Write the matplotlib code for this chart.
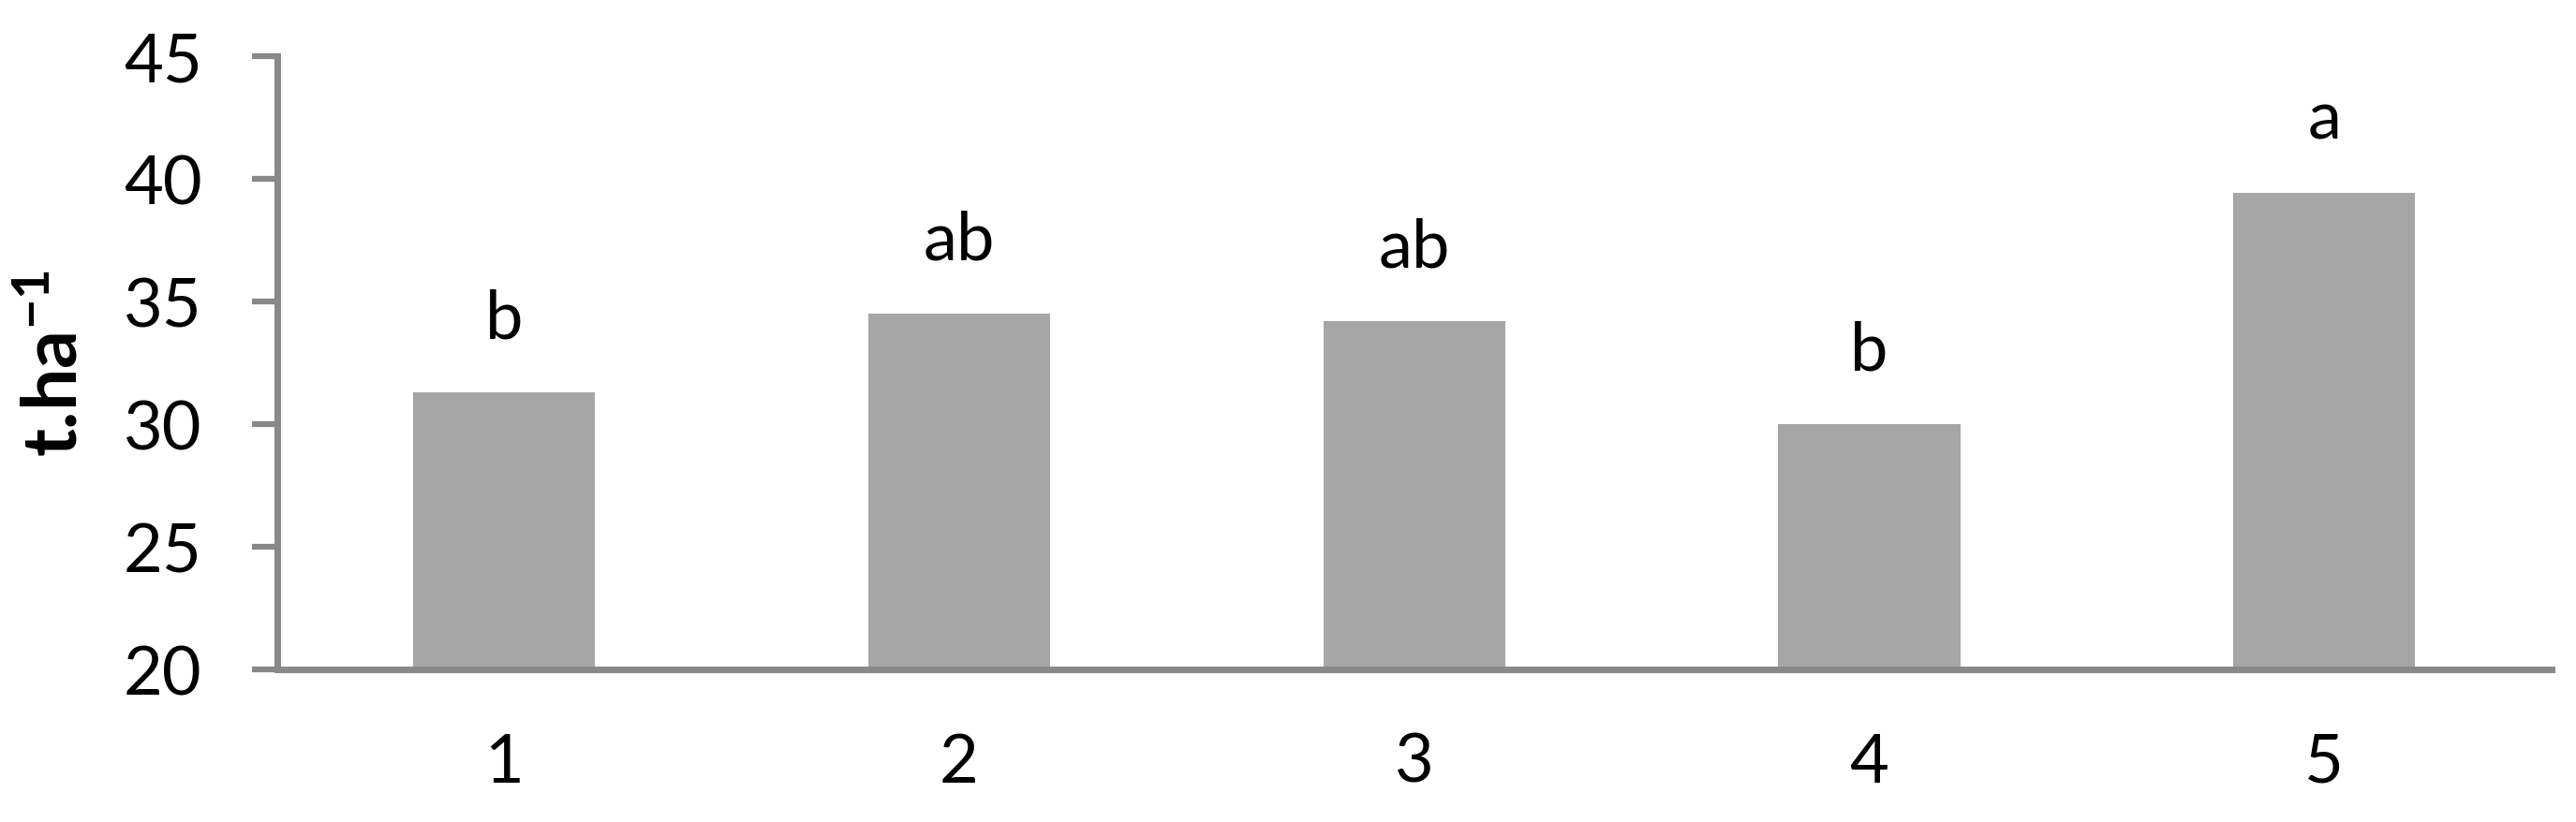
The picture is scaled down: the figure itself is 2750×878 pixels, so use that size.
import matplotlib
matplotlib.use("Agg")
import matplotlib.pyplot as plt

# Data
categories = ["1", "2", "3", "4", "5"]
yields = [31.3, 34.5, 34.2, 30.0, 39.4]
groups = ["b", "ab", "ab", "b", "a"]
y_ticks = [20, 25, 30, 35, 40, 45]

plt.rcParams["font.family"] = ["Lato", "DejaVu Sans"]
plt.rcParams["mathtext.fontset"] = "custom"
plt.rcParams["mathtext.rm"] = "Lato"
plt.rcParams["mathtext.bf"] = "Lato:bold"
plt.rcParams["mathtext.it"] = "Lato:italic"

AXIS_GREY = "#888888"
BAR_GREY = "#a6a6a6"

fig = plt.figure(figsize=(27.5, 8.79), dpi=100)
ax = fig.add_axes([295.5 / 2750, 1 - 716 / 879, (2724 - 295.5) / 2750, (716 - 60.5) / 879])

x = list(range(1, len(categories) + 1))
ax.bar(x, yields, width=0.4, bottom=0, color=BAR_GREY, zorder=2)

# Significance letters above the bars
for xi, val, grp in zip(x, yields, groups):
    ax.annotate(grp, (xi, val), xytext=(0, 42), textcoords="offset points",
                ha="center", va="baseline", fontsize=52)

ax.set_xlim(0.5, 5.5)
ax.set_ylim(20, 45)
ax.set_xticks(x)
ax.set_xticklabels(categories)
ax.set_yticks(y_ticks)

for side in ["top", "right"]:
    ax.spines[side].set_visible(False)
for side in ["left", "bottom"]:
    ax.spines[side].set_color(AXIS_GREY)
    ax.spines[side].set_linewidth(5)

ax.tick_params(axis="y", direction="out", length=19.5, width=4.5, color=AXIS_GREY,
               pad=38, labelsize=52)
ax.tick_params(axis="x", length=0, pad=48, labelsize=52)

ax.set_ylabel(r"t.ha$^{\mathbf{-1}}$", fontsize=58, fontweight="bold")
ax.yaxis.set_label_coords(-0.082, 0.5)

fig.savefig("out.png", dpi=100, facecolor="white")
